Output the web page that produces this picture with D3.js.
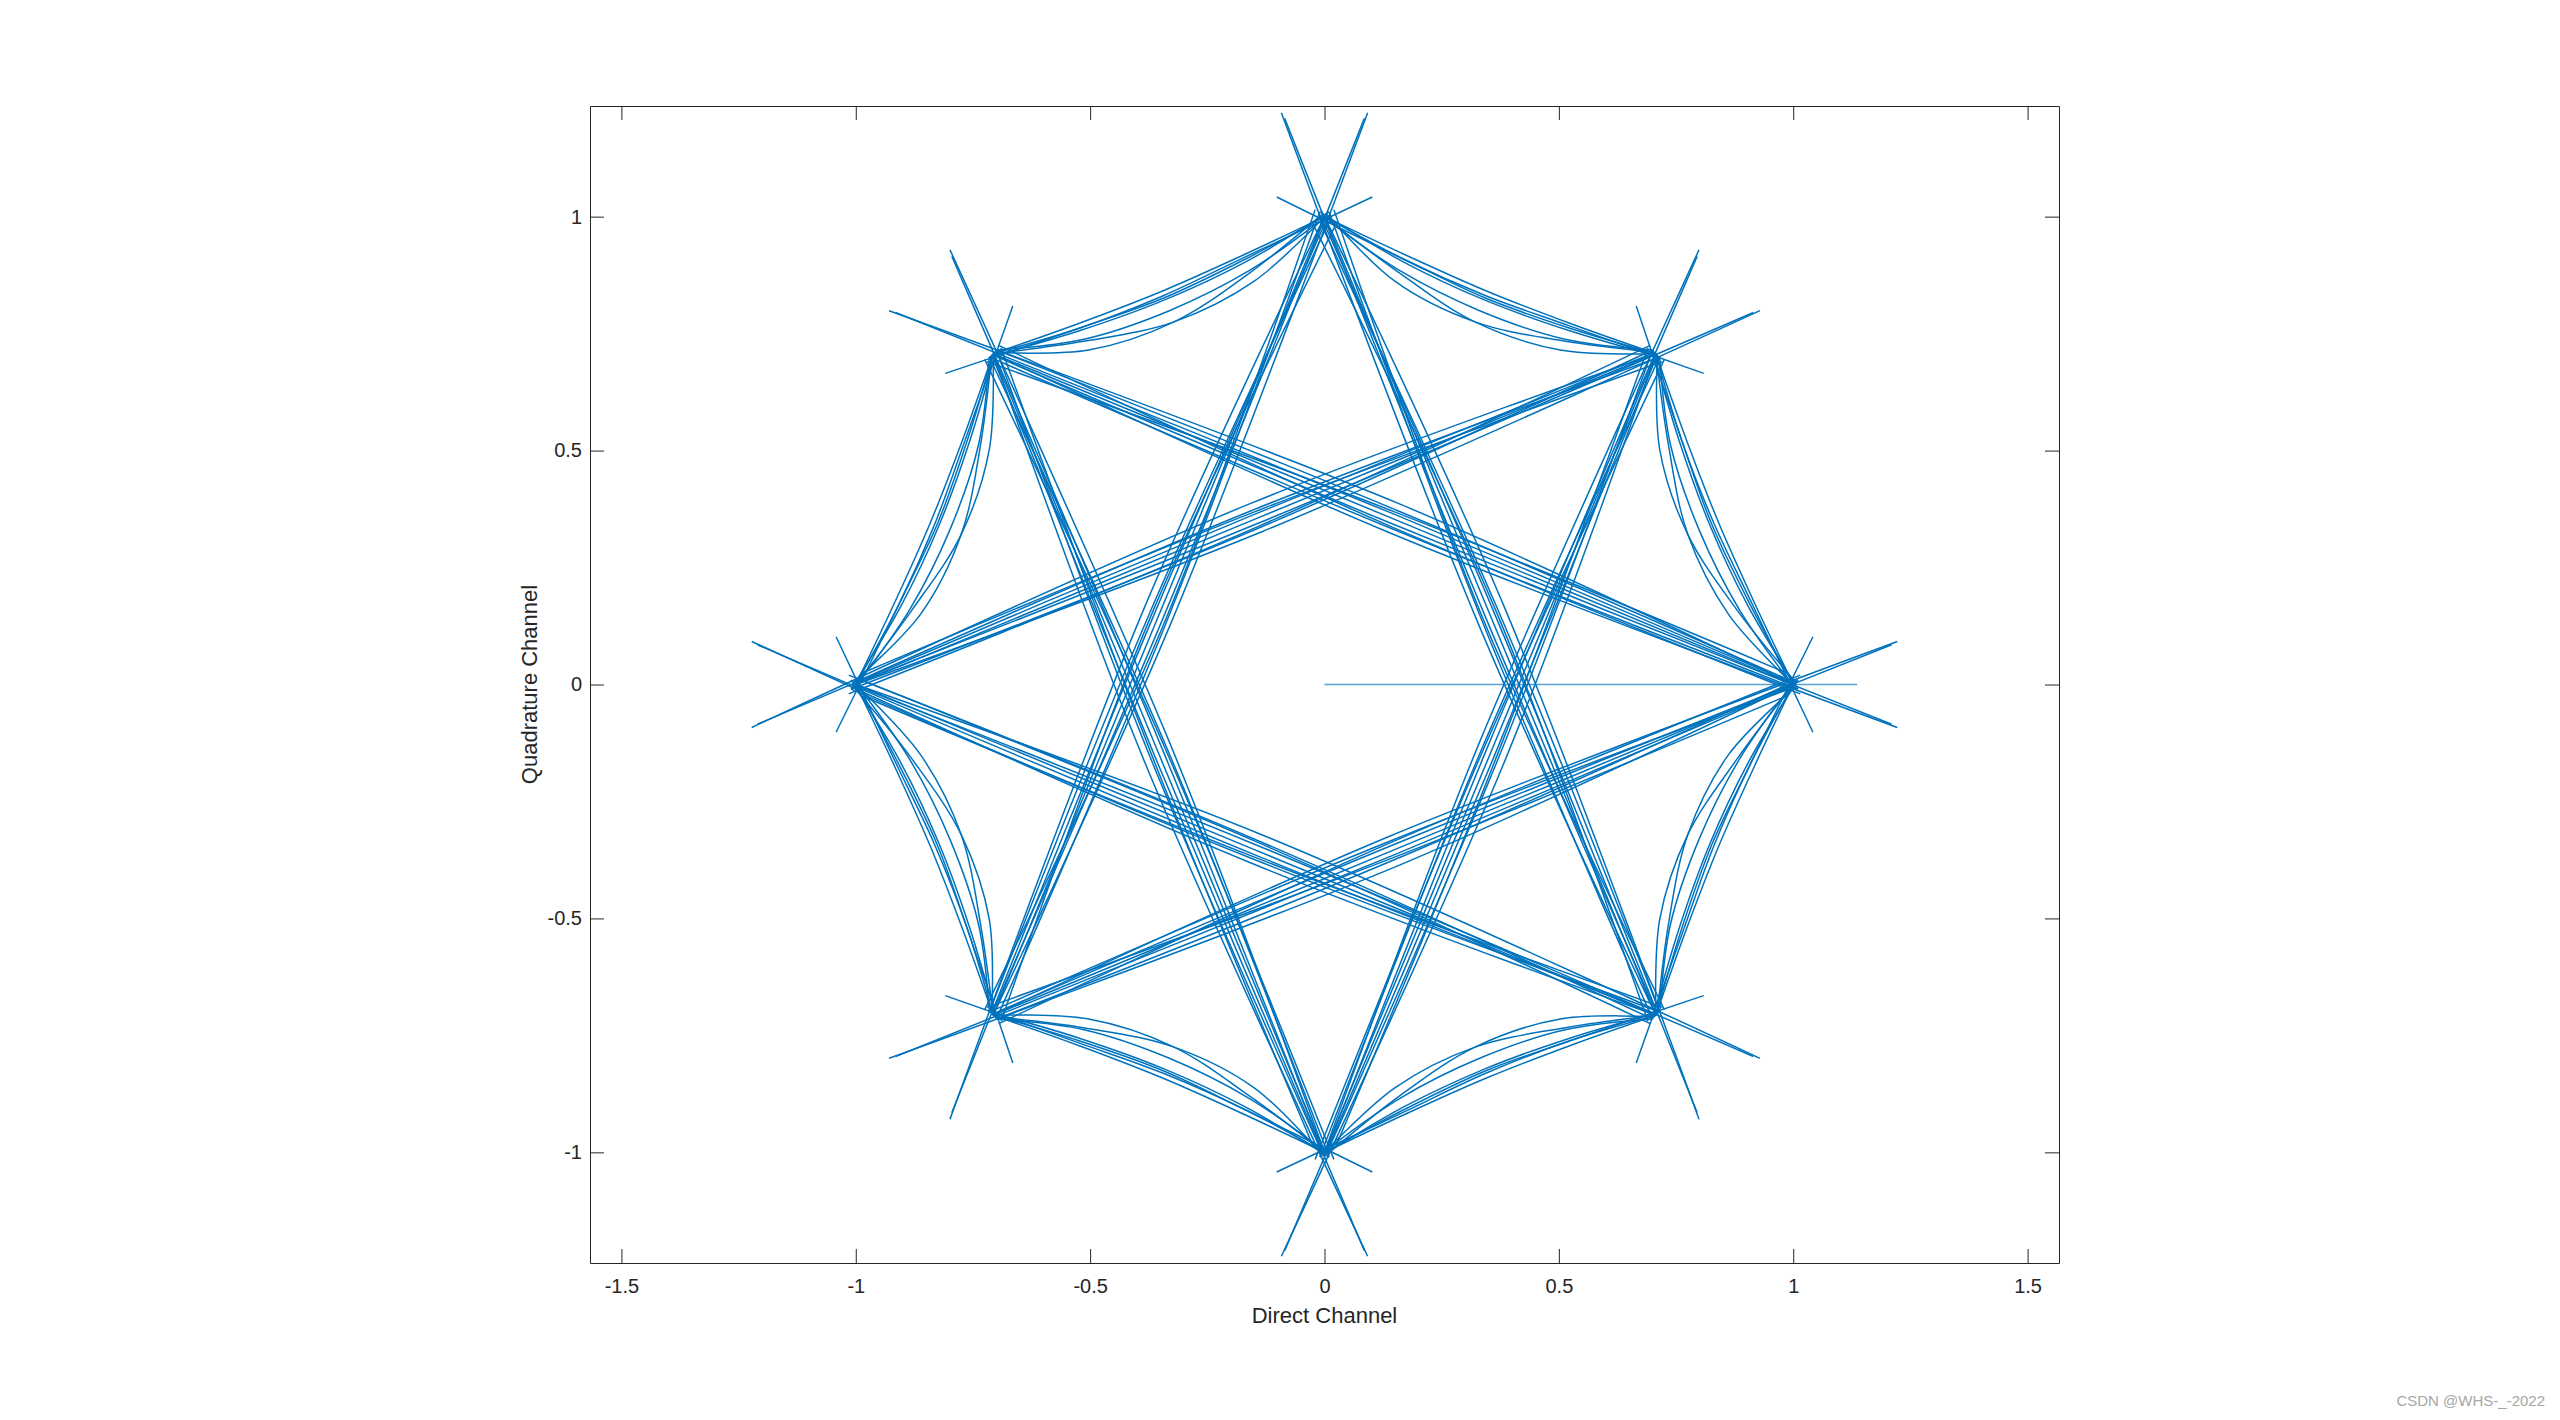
<!DOCTYPE html>
<html>
<head>
<meta charset="utf-8">
<script src="https://cdn.jsdelivr.net/npm/d3@7"></script>
<style>
	body { margin: 0; background: #fff; }
	svg { display: block; }
	.tick text { font-family: "Liberation Sans", Arial, sans-serif; font-size: 20px; fill: #262626; }
	.axis-label { font-family: "Liberation Sans", Arial, sans-serif; font-size: 22px; fill: #262626; }
	.trace { fill: none; stroke: #0072BD; stroke-width: 1.5; stroke-linejoin: round; }
	.trace.start { stroke-opacity: 0.65; }
</style>
</head>
<body>
<div id="svg-container"></div>
<script>
// ticks
var xTicks = [-1.5, -1, -0.5, 0, 0.5, 1, 1.5];
var yTicks = [-1, -0.5, 0, 0.5, 1];

// first samples: the filter starting from the origin
var startTrace = [[0, 0], [1.135, 0], [1.0, 0.0]];

// transitions between symbols 3 apart (the star)
var star03 = [
	[[1.0, 0.0], [0.147, 0.354], [-0.707, 0.707]],
	[[0.99, 0.01], [0.155, 0.372], [-0.70, 0.715]],
	[[1.01, -0.01], [0.139, 0.335], [-0.715, 0.70]],
	[[1.0, 0.0], [0.160, 0.386], [-0.929, 0.799]],
	[[1.222, -0.092], [0.135, 0.326], [-0.707, 0.707]],
	[[0.995, 0.005], [0.151, 0.363], [-0.915, 0.795]],
	[[1.21, -0.085], [0.143, 0.344], [-0.71, 0.705]],
	[[0.985, 0.025], [0.152, 0.368], [-0.72, 0.69]],
	[[1.015, -0.02], [0.141, 0.338], [-0.695, 0.725]]
];
var star05 = [
	[[1.0, 0.0], [0.147, -0.354], [-0.707, -0.707]],
	[[1.01, 0.01], [0.155, -0.372], [-0.70, -0.715]],
	[[0.99, -0.01], [0.139, -0.335], [-0.715, -0.70]],
	[[1.0, 0.0], [0.160, -0.386], [-0.929, -0.799]],
	[[1.222, 0.092], [0.135, -0.326], [-0.707, -0.707]],
	[[0.995, -0.005], [0.151, -0.363], [-0.915, -0.795]],
	[[1.21, 0.085], [0.143, -0.344], [-0.71, -0.705]],
	[[0.985, -0.025], [0.152, -0.368], [-0.72, -0.69]],
	[[1.015, 0.02], [0.141, -0.338], [-0.695, -0.725]]
];
var star14 = [
	[[0.707, 0.707], [-0.147, 0.354], [-1.0, 0.0]],
	[[0.715, 0.70], [-0.155, 0.372], [-0.99, 0.01]],
	[[0.70, 0.715], [-0.139, 0.335], [-1.01, -0.01]],
	[[0.707, 0.707], [-0.160, 0.386], [-1.222, -0.092]],
	[[0.929, 0.799], [-0.135, 0.326], [-1.0, 0.0]],
	[[0.705, 0.71], [-0.151, 0.363], [-1.21, -0.085]],
	[[0.915, 0.795], [-0.143, 0.344], [-0.995, 0.005]],
	[[0.72, 0.69], [-0.152, 0.368], [-0.985, 0.025]],
	[[0.695, 0.725], [-0.141, 0.338], [-1.015, -0.02]]
];
var star16 = [
	[[0.707, 0.707], [0.354, -0.147], [0.0, -1.0]],
	[[0.70, 0.715], [0.372, -0.155], [0.01, -0.99]],
	[[0.715, 0.70], [0.335, -0.139], [-0.01, -1.01]],
	[[0.707, 0.707], [0.386, -0.160], [-0.092, -1.222]],
	[[0.799, 0.929], [0.326, -0.135], [0.0, -1.0]],
	[[0.71, 0.705], [0.363, -0.151], [-0.085, -1.21]],
	[[0.795, 0.915], [0.344, -0.143], [0.005, -0.995]],
	[[0.69, 0.72], [0.368, -0.152], [0.025, -0.985]],
	[[0.725, 0.695], [0.338, -0.141], [-0.02, -1.015]]
];
var star25 = [
	[[0.0, 1.0], [-0.354, 0.147], [-0.707, -0.707]],
	[[0.01, 0.99], [-0.372, 0.155], [-0.715, -0.70]],
	[[-0.01, 1.01], [-0.335, 0.139], [-0.70, -0.715]],
	[[0.0, 1.0], [-0.386, 0.160], [-0.799, -0.929]],
	[[0.092, 1.222], [-0.326, 0.135], [-0.707, -0.707]],
	[[0.005, 0.995], [-0.363, 0.151], [-0.795, -0.915]],
	[[0.085, 1.21], [-0.344, 0.143], [-0.71, -0.705]],
	[[0.025, 0.985], [-0.368, 0.152], [-0.69, -0.72]],
	[[-0.02, 1.015], [-0.338, 0.141], [-0.725, -0.695]]
];
var star27 = [
	[[0.0, 1.0], [0.354, 0.147], [0.707, -0.707]],
	[[-0.01, 0.99], [0.372, 0.155], [0.715, -0.70]],
	[[0.01, 1.01], [0.335, 0.139], [0.70, -0.715]],
	[[0.0, 1.0], [0.386, 0.160], [0.799, -0.929]],
	[[-0.092, 1.222], [0.326, 0.135], [0.707, -0.707]],
	[[-0.005, 0.995], [0.363, 0.151], [0.795, -0.915]],
	[[-0.085, 1.21], [0.344, 0.143], [0.71, -0.705]],
	[[-0.025, 0.985], [0.368, 0.152], [0.69, -0.72]],
	[[0.02, 1.015], [0.338, 0.141], [0.725, -0.695]]
];
var star36 = [
	[[-0.707, 0.707], [-0.354, -0.147], [0.0, -1.0]],
	[[-0.70, 0.715], [-0.372, -0.155], [-0.01, -0.99]],
	[[-0.715, 0.70], [-0.335, -0.139], [0.01, -1.01]],
	[[-0.707, 0.707], [-0.386, -0.160], [0.092, -1.222]],
	[[-0.799, 0.929], [-0.326, -0.135], [0.0, -1.0]],
	[[-0.71, 0.705], [-0.363, -0.151], [0.085, -1.21]],
	[[-0.795, 0.915], [-0.344, -0.143], [-0.005, -0.995]],
	[[-0.69, 0.72], [-0.368, -0.152], [-0.025, -0.985]],
	[[-0.725, 0.695], [-0.338, -0.141], [0.02, -1.015]]
];
var star47 = [
	[[-1.0, 0.0], [-0.147, -0.354], [0.707, -0.707]],
	[[-0.99, 0.01], [-0.139, -0.335], [0.70, -0.715]],
	[[-1.01, -0.01], [-0.155, -0.372], [0.715, -0.70]],
	[[-1.0, 0.0], [-0.134, -0.321], [0.929, -0.799]],
	[[-1.222, 0.092], [-0.158, -0.381], [0.707, -0.707]],
	[[-0.995, -0.005], [-0.143, -0.344], [0.915, -0.795]],
	[[-1.21, 0.085], [-0.151, -0.363], [0.71, -0.705]],
	[[-0.985, -0.025], [-0.152, -0.368], [0.72, -0.69]],
	[[-1.015, 0.02], [-0.141, -0.338], [0.695, -0.725]]
];

// transitions between neighbouring symbols (the bowed edges)
var arc01 = [
	[[1, 0], [0.918, 0.173], [0.840, 0.348], [0.771, 0.526], [0.707, 0.707]],
	[[1.01, -0.01], [0.904, 0.167], [0.822, 0.341], [0.757, 0.520], [0.70, 0.715]],
	[[0.99, 0.01], [0.885, 0.160], [0.799, 0.331], [0.738, 0.513], [0.715, 0.70]],
	[[1, 0], [0.862, 0.150], [0.775, 0.321], [0.734, 0.511], [0.707, 0.707]],
	[[1.005, 0.005], [0.881, 0.158], [0.775, 0.321], [0.715, 0.503], [0.71, 0.705]],
	[[1, 0], [0.909, 0.169], [0.826, 0.343], [0.762, 0.522], [0.665, 0.809]],
	[[1.042, -0.102], [0.913, 0.171], [0.831, 0.344], [0.762, 0.522], [0.707, 0.707]]
];
var arc12 = [
	[[0.707, 0.707], [0.526, 0.771], [0.348, 0.840], [0.173, 0.918], [0, 1]],
	[[0.715, 0.70], [0.520, 0.757], [0.341, 0.822], [0.167, 0.904], [-0.01, 1.01]],
	[[0.70, 0.715], [0.513, 0.738], [0.331, 0.799], [0.160, 0.885], [0.01, 0.99]],
	[[0.707, 0.707], [0.503, 0.715], [0.321, 0.775], [0.158, 0.881], [0, 1]],
	[[0.705, 0.71], [0.511, 0.734], [0.321, 0.775], [0.150, 0.862], [0.005, 1.005]],
	[[0.707, 0.707], [0.522, 0.762], [0.343, 0.826], [0.169, 0.909], [-0.102, 1.042]],
	[[0.809, 0.665], [0.524, 0.766], [0.344, 0.831], [0.169, 0.909], [0, 1]]
];
var arc23 = [
	[[0, 1], [-0.173, 0.918], [-0.348, 0.840], [-0.526, 0.771], [-0.707, 0.707]],
	[[0.01, 1.01], [-0.167, 0.904], [-0.341, 0.822], [-0.520, 0.757], [-0.715, 0.70]],
	[[-0.01, 0.99], [-0.160, 0.885], [-0.331, 0.799], [-0.513, 0.738], [-0.70, 0.715]],
	[[0, 1], [-0.150, 0.862], [-0.321, 0.775], [-0.511, 0.734], [-0.707, 0.707]],
	[[-0.005, 1.005], [-0.158, 0.881], [-0.321, 0.775], [-0.503, 0.715], [-0.705, 0.71]],
	[[0, 1], [-0.169, 0.909], [-0.343, 0.826], [-0.522, 0.762], [-0.809, 0.665]],
	[[0.102, 1.042], [-0.171, 0.913], [-0.344, 0.831], [-0.522, 0.762], [-0.707, 0.707]]
];
var arc34 = [
	[[-0.707, 0.707], [-0.771, 0.526], [-0.840, 0.348], [-0.918, 0.173], [-1, 0]],
	[[-0.70, 0.715], [-0.757, 0.520], [-0.822, 0.341], [-0.904, 0.167], [-1.01, -0.01]],
	[[-0.715, 0.70], [-0.738, 0.513], [-0.799, 0.331], [-0.885, 0.160], [-0.99, 0.01]],
	[[-0.707, 0.707], [-0.715, 0.503], [-0.775, 0.321], [-0.881, 0.158], [-1, 0]],
	[[-0.71, 0.705], [-0.734, 0.511], [-0.775, 0.321], [-0.862, 0.150], [-1.005, 0.005]],
	[[-0.707, 0.707], [-0.762, 0.522], [-0.826, 0.343], [-0.909, 0.169], [-1.042, -0.102]],
	[[-0.665, 0.809], [-0.766, 0.524], [-0.831, 0.344], [-0.909, 0.169], [-1, 0]]
];
var arc45 = [
	[[-1, 0], [-0.918, -0.173], [-0.840, -0.348], [-0.771, -0.526], [-0.707, -0.707]],
	[[-1.01, 0.01], [-0.904, -0.167], [-0.822, -0.341], [-0.757, -0.520], [-0.70, -0.715]],
	[[-0.99, -0.01], [-0.885, -0.160], [-0.799, -0.331], [-0.738, -0.513], [-0.715, -0.70]],
	[[-1, 0], [-0.862, -0.150], [-0.775, -0.321], [-0.734, -0.511], [-0.707, -0.707]],
	[[-1.005, -0.005], [-0.881, -0.158], [-0.775, -0.321], [-0.715, -0.503], [-0.71, -0.705]],
	[[-1, 0], [-0.909, -0.169], [-0.826, -0.343], [-0.762, -0.522], [-0.665, -0.809]],
	[[-1.042, 0.102], [-0.913, -0.171], [-0.831, -0.344], [-0.762, -0.522], [-0.707, -0.707]]
];
var arc56 = [
	[[-0.707, -0.707], [-0.526, -0.771], [-0.348, -0.840], [-0.173, -0.918], [0, -1]],
	[[-0.715, -0.70], [-0.520, -0.757], [-0.341, -0.822], [-0.167, -0.904], [0.01, -1.01]],
	[[-0.70, -0.715], [-0.513, -0.738], [-0.331, -0.799], [-0.160, -0.885], [-0.01, -0.99]],
	[[-0.707, -0.707], [-0.503, -0.715], [-0.321, -0.775], [-0.158, -0.881], [0, -1]],
	[[-0.705, -0.71], [-0.511, -0.734], [-0.321, -0.775], [-0.150, -0.862], [-0.005, -1.005]],
	[[-0.707, -0.707], [-0.522, -0.762], [-0.343, -0.826], [-0.169, -0.909], [0.102, -1.042]],
	[[-0.809, -0.665], [-0.524, -0.766], [-0.344, -0.831], [-0.169, -0.909], [0, -1]]
];
var arc67 = [
	[[0, -1], [0.173, -0.918], [0.348, -0.840], [0.526, -0.771], [0.707, -0.707]],
	[[-0.01, -1.01], [0.167, -0.904], [0.341, -0.822], [0.520, -0.757], [0.715, -0.70]],
	[[0.01, -0.99], [0.160, -0.885], [0.331, -0.799], [0.513, -0.738], [0.70, -0.715]],
	[[0, -1], [0.150, -0.862], [0.321, -0.775], [0.511, -0.734], [0.707, -0.707]],
	[[0.005, -1.005], [0.158, -0.881], [0.321, -0.775], [0.503, -0.715], [0.705, -0.71]],
	[[0, -1], [0.169, -0.909], [0.343, -0.826], [0.522, -0.762], [0.809, -0.665]],
	[[-0.102, -1.042], [0.171, -0.913], [0.344, -0.831], [0.522, -0.762], [0.707, -0.707]]
];
var arc70 = [
	[[0.707, -0.707], [0.771, -0.526], [0.840, -0.348], [0.918, -0.173], [1, 0]],
	[[0.70, -0.715], [0.757, -0.520], [0.822, -0.341], [0.904, -0.167], [1.01, 0.01]],
	[[0.715, -0.70], [0.738, -0.513], [0.799, -0.331], [0.885, -0.160], [0.99, -0.01]],
	[[0.707, -0.707], [0.715, -0.503], [0.775, -0.321], [0.881, -0.158], [1, 0]],
	[[0.71, -0.705], [0.734, -0.511], [0.775, -0.321], [0.862, -0.150], [1.005, -0.005]],
	[[0.707, -0.707], [0.762, -0.522], [0.826, -0.343], [0.909, -0.169], [1.042, 0.102]],
	[[0.665, -0.809], [0.766, -0.524], [0.831, -0.344], [0.909, -0.169], [1, 0]]
];

var Chart = function () {
	var _outerSize = { width: 2560, height: 1420 };
	var _margin = { top: 106, left: 590, right: 501, bottom: 157 };
	var _innerSize = {
		width:  _outerSize.width  - _margin.left - _margin.right,
		height: _outerSize.height - _margin.top  - _margin.bottom };
	var _tickLen = 14;
	var _xScale = d3.scaleLinear().domain([-1.567, 1.567]).range([0, _innerSize.width]);
	var _yScale = d3.scaleLinear().domain([-1.2365, 1.2365]).range([_innerSize.height, 0]);

	return { draw: myDraw };

	function myDraw(traces) {
		var svg = d3.select("#svg-container").append("svg")
			.attr("width", _outerSize.width)
			.attr("height", _outerSize.height);

		svg.append("rect")
			.attr("width", _outerSize.width).attr("height", _outerSize.height)
			.attr("fill", "#fff");

		var g = svg.append("g")
			.attr("transform", "translate(" + _margin.left + "," + _margin.top + ")");

		g.append("clipPath").attr("id", "plot-clip")
			.append("rect")
			.attr("width", _innerSize.width).attr("height", _innerSize.height);

		//the trajectory
		var lineFunction = d3.line()
			.x(function (d) { return _xScale(d[0]); })
			.y(function (d) { return _yScale(d[1]); })
			.curve(d3.curveCatmullRom.alpha(0.5));

		g.append("g").attr("class", "traces").attr("clip-path", "url(#plot-clip)")
			.selectAll("path")
			.data(traces)
			.enter()
			.append("path")
			.attr("class", function (d, i) { return i === 0 ? "trace start" : "trace"; })
			.attr("d", lineFunction);

		//the box: ticks point inward on all four sides
		var fmt = function (d) { return String(d); };
		var axes = [
			{ axis: d3.axisBottom(_xScale).tickValues(xTicks).tickFormat(fmt).tickPadding(16), at: [0, _innerSize.height] },
			{ axis: d3.axisTop(_xScale).tickValues(xTicks).tickFormat(""), at: [0, 0] },
			{ axis: d3.axisLeft(_yScale).tickValues(yTicks).tickFormat(fmt).tickPadding(8), at: [0, 0] },
			{ axis: d3.axisRight(_yScale).tickValues(yTicks).tickFormat(""), at: [_innerSize.width, 0] }
		];
		axes.forEach(function (a) {
			var ag = g.append("g")
				.attr("transform", "translate(" + a.at[0] + "," + a.at[1] + ")")
				.call(a.axis.tickSizeInner(-_tickLen).tickSizeOuter(0));
			ag.selectAll("path, line").attr("stroke", "#262626").attr("stroke-width", 1);
			ag.selectAll("text").attr("font-family", null).attr("font-size", null);
		});

		//axis labels
		g.append("text")
			.attr("class", "axis-label")
			.attr("text-anchor", "middle")
			.attr("x", _xScale(0))
			.attr("y", _innerSize.height + 60)
			.text("Direct Channel");

		g.append("text")
			.attr("class", "axis-label")
			.attr("text-anchor", "middle")
			.attr("transform", "translate(-53," + _innerSize.height / 2 + ") rotate(-90)")
			.text("Quadrature Channel");

		//watermark
		svg.append("text")
			.attr("x", 2545).attr("y", 1406)
			.attr("text-anchor", "end")
			.attr("font-family", "Liberation Sans, Arial, sans-serif")
			.attr("font-size", 15)
			.attr("fill", "#a6a6a6")
			.text("CSDN @WHS-_-2022");
	}
};

var traces = [startTrace]
	.concat(star03, star05, star14, star16, star25, star27, star36, star47)
	.concat(arc01, arc12, arc23, arc34, arc45, arc56, arc67, arc70);

Chart().draw(traces);
</script>
</body>
</html>
